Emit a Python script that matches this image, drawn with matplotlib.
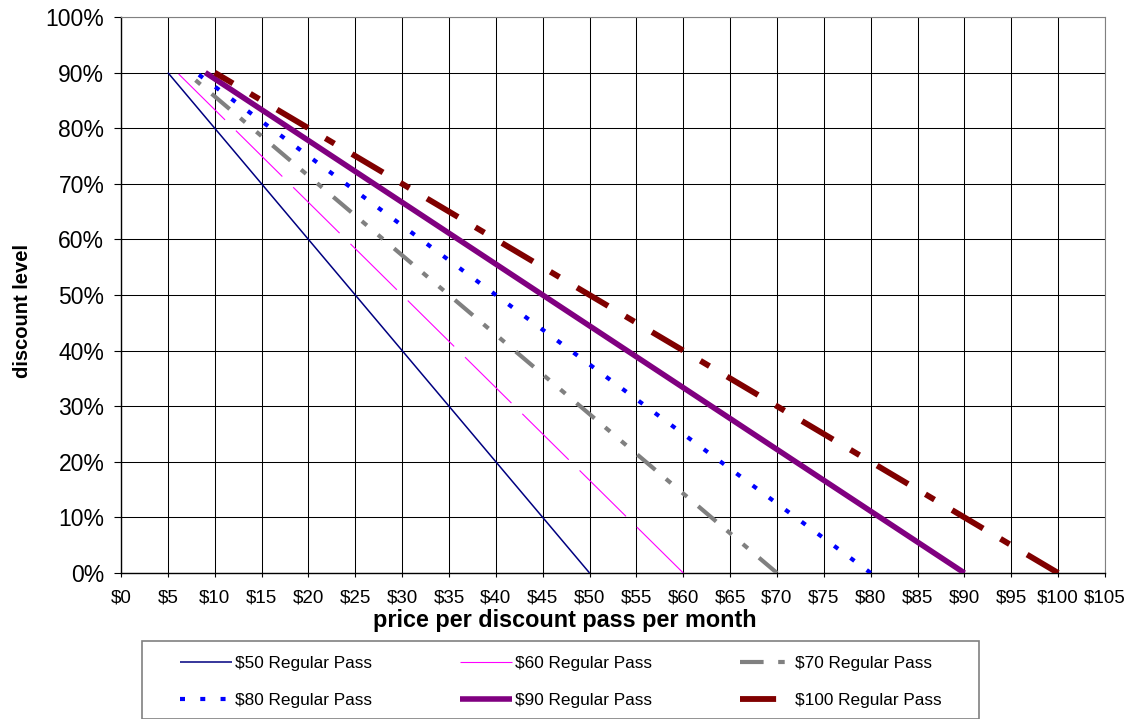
import matplotlib
matplotlib.use("Agg")
import matplotlib.pyplot as plt
from matplotlib.patches import Rectangle
from matplotlib.ticker import FuncFormatter, MultipleLocator

plt.rcParams['font.family'] = ['Liberation Sans', 'DejaVu Sans']
plt.rcParams['lines.scale_dashes'] = False

# Data: discount level vs. price per discount pass per month
discount = [0.0, 0.1, 0.2, 0.3, 0.4, 0.5, 0.6, 0.7, 0.8, 0.9]
price_50 = [50, 45, 40, 35, 30, 25, 20, 15, 10, 5]
price_60 = [60, 54, 48, 42, 36, 30, 24, 18, 12, 6]
price_70 = [70, 63, 56, 49, 42, 35, 28, 21, 14, 7]
price_80 = [80, 72, 64, 56, 48, 40, 32, 24, 16, 8]
price_90 = [90, 81, 72, 63, 54, 45, 36, 27, 18, 9]
price_100 = [100, 90, 80, 70, 60, 50, 40, 30, 20, 10]
labels = ["$50 Regular Pass", "$60 Regular Pass", "$70 Regular Pass",
          "$80 Regular Pass", "$90 Regular Pass", "$100 Regular Pass"]
xticks = list(range(0, 106, 5))

W, H = 1136, 719
fig = plt.figure(figsize=(W / 100, H / 100), dpi=100)
ax = fig.add_axes([121 / W, 1 - 573 / H, (1105 - 121) / W, (573 - 17) / H])

styles = [
    dict(color='#000080', lw=1.1, ls='-'),
    dict(color='#FF00FF', lw=0.8, dashes=(47, 11)),
    dict(color='#808080', lw=3.0, dashes=(17, 10.5, 4.7, 10.5, 4.7, 10)),
    dict(color='#0000FF', lw=3.0, dashes=(3.6, 11)),
    dict(color='#800080', lw=4.0, ls='-'),
    dict(color='#800000', lw=4.2, dashes=(26, 14.7, 7.6, 14.5)),
]
series = [price_50, price_60, price_70, price_80, price_90, price_100]
handles = []
for s, st, lab in zip(series, styles, labels):
    (h,) = ax.plot(s, discount, label=lab, solid_capstyle='butt',
                   dash_capstyle='butt', zorder=3, **st)
    handles.append(h)

ax.set_xlim(0, 105)
ax.set_ylim(0, 1.0)
ax.set_xticks(xticks)
ax.xaxis.set_major_formatter(FuncFormatter(lambda v, p: f"${int(round(v))}"))
ax.yaxis.set_major_locator(MultipleLocator(0.1))
ax.yaxis.set_major_formatter(FuncFormatter(lambda v, p: f"{int(round(v * 100))}%"))
ax.grid(True, color='#000000', lw=0.75, zorder=1)
ax.set_axisbelow(True)
ax.tick_params(axis='x', labelsize=13.5, length=3, width=0.8, pad=9, direction='out')
ax.tick_params(axis='y', labelsize=16.5, length=5, width=0.8, pad=7, direction='out')
for sp in ['top', 'right']:
    ax.spines[sp].set_color('#808080')
for sp in ['left', 'bottom']:
    ax.spines[sp].set_color('#000000')
    ax.spines[sp].set_linewidth(1.0)

ax.set_xlabel("price per discount pass per month", fontsize=16.8, fontweight='bold')
ax.xaxis.set_label_coords((565 - 121) / 984, (573 - 609) / 556)
ax.set_ylabel("discount level", fontsize=14.5, fontweight='bold')
ax.yaxis.set_label_coords((32 - 121) / 984, (573 - 311) / 556)

# legend frame
fig.patches.append(Rectangle((142 / W, 0), (979 - 142) / W, (H - 641) / H,
                             transform=fig.transFigure, facecolor='white',
                             edgecolor='#808080', lw=1.2, zorder=0))
order = [0, 3, 1, 4, 2, 5]
leg = fig.legend([handles[i] for i in order], [labels[i] for i in order],
                 ncol=3, loc='center left', bbox_to_anchor=(180 / W, 1 - 682 / H),
                 frameon=False, fontsize=12.4, handlelength=3.0, handletextpad=0.2,
                 columnspacing=5.1, labelspacing=1.25, borderpad=0, borderaxespad=0)

fig.savefig("out.png", dpi=100)
